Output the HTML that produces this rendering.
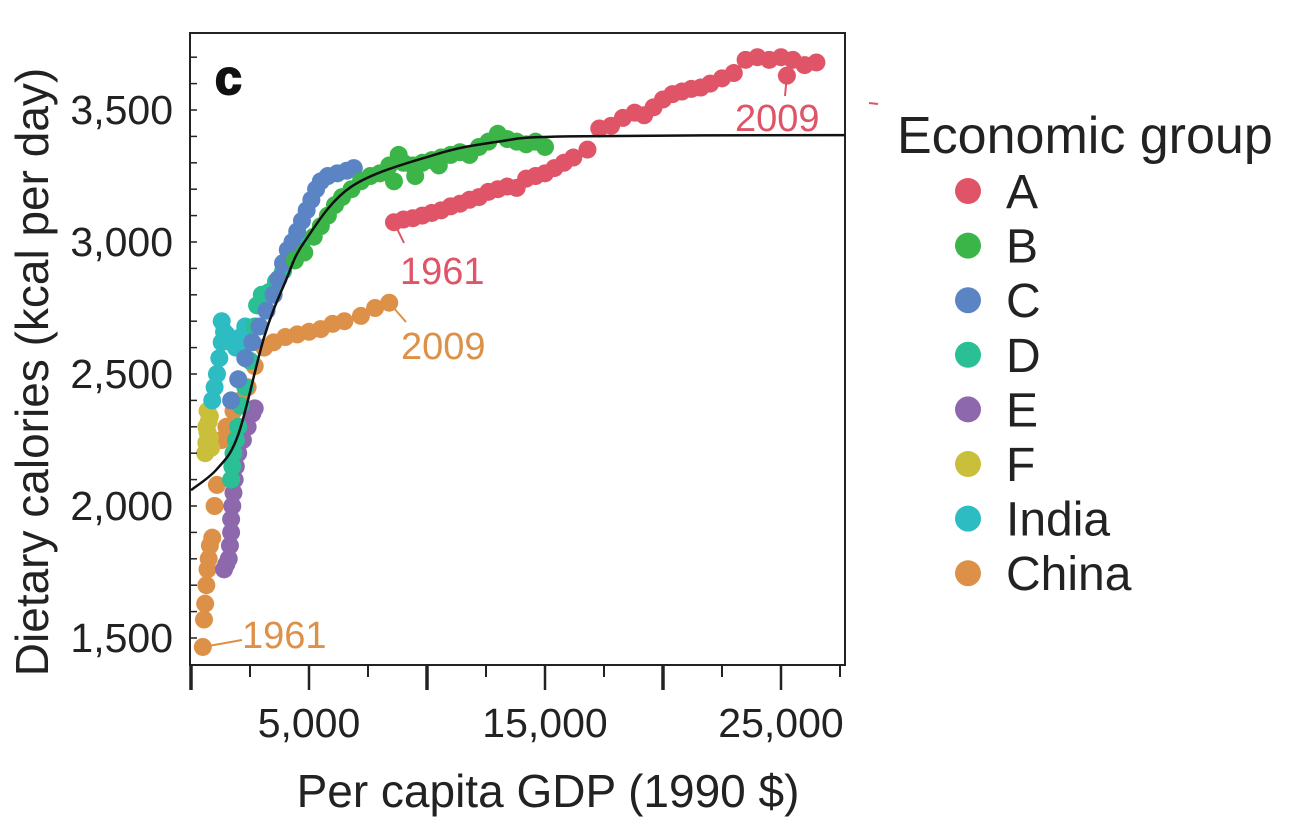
<!DOCTYPE html>
<html><head><meta charset="utf-8"><style>
body{margin:0;background:#fff;}
svg text{font-family:"Liberation Sans",Arial,sans-serif;}
</style></head><body>
<svg id="chart" width="1292" height="824" xmlns="http://www.w3.org/2000/svg">
<g id="marks"></g>
</svg>
<script>
const groupNames=["A","B","C","D","E","F","India","China"];
const groupColors=["#e05468","#3cb548","#5a84c4","#2abf94","#8e68ad","#c9bf3a","#2dbcc2","#dd9148"];
const seriesA=[[8600,3075],[9000,3085],[9400,3090],[9800,3100],[10200,3110],[10600,3120],[11000,3135],[11400,3145],[11800,3160],[12200,3170],[12600,3190],[13000,3200],[13400,3210],[13800,3205],[14200,3240],[14600,3250],[15000,3260],[15400,3280],[15800,3300],[16200,3320],[16800,3350],[17300,3430],[17800,3440],[18300,3470],[18800,3490],[19200,3480],[19600,3510],[20000,3540],[20400,3560],[20800,3570],[21200,3580],[21600,3585],[22000,3600],[22500,3620],[23000,3640],[23500,3690],[24000,3700],[24500,3690],[25000,3700],[25500,3690],[26000,3670],[26500,3680],[25250,3630]];
const seriesB=[[4400,2930],[4800,2960],[5200,3020],[5500,3060],[5800,3100],[6100,3140],[6400,3170],[6800,3200],[7200,3230],[7600,3250],[8000,3260],[8400,3290],[8800,3330],[9000,3300],[9400,3290],[9800,3300],[10200,3310],[10600,3320],[11000,3330],[11400,3340],[11800,3330],[12200,3360],[12600,3380],[13000,3410],[13400,3390],[13800,3380],[14200,3370],[14600,3380],[15000,3360],[8600,3230],[9500,3250],[10500,3290]];
const seriesC=[[1700,2400],[2000,2480],[2300,2560],[2600,2620],[2900,2680],[3200,2740],[3500,2800],[3700,2860],[3900,2920],[4100,2970],[4300,3000],[4500,3040],[4700,3080],[4900,3120],[5100,3160],[5300,3200],[5500,3230],[5800,3250],[6200,3260],[6600,3270],[6900,3280]];
const seriesD=[[1700,2100],[1750,2150],[1800,2200],[1900,2250],[2000,2300],[2100,2380],[2300,2450],[2500,2550],[2700,2680],[2800,2760],[3000,2800],[3300,2810],[3600,2850],[3900,2890],[4200,2940],[4500,2970],[4700,3000]];
const seriesE=[[1400,1760],[1500,1780],[1600,1800],[1650,1850],[1700,1900],[1700,1950],[1750,2000],[1800,2050],[1850,2100],[1900,2150],[2000,2200],[2200,2250],[2400,2300],[2600,2350],[2700,2370]];
const seriesF=[[600,2200],[650,2240],[700,2280],[750,2320],[800,2340],[700,2360],[650,2300],[800,2260],[850,2220]];
const seriesIndia=[[900,2400],[1000,2450],[1100,2500],[1200,2560],[1300,2620],[1400,2660],[1500,2650],[1700,2620],[1900,2600],[2100,2640],[2300,2680],[1300,2700],[2500,2620]];
const seriesChina=[[500,1466],[550,1570],[600,1630],[650,1700],[700,1760],[750,1800],[800,1850],[900,1880],[1000,2000],[1100,2080],[1300,2250],[1500,2300],[1800,2360],[2100,2400],[2400,2450],[2700,2530],[3100,2600],[3500,2620],[4000,2640],[4500,2650],[5000,2660],[5500,2670],[6000,2690],[6500,2700],[7200,2720],[7800,2750],[8400,2770]];
const fitCurve=[[0,2060],[1100,2140],[2000,2270],[3100,2640],[4000,2850],[4800,3000],[6800,3210],[10300,3330],[13000,3380],[16000,3400],[27700,3405]];
const yTicks=[1500,2000,2500,3000,3500];
const yTickLabels=["1,500","2,000","2,500","3,000","3,500"];
const xTicks=[5000,15000,25000];
const xTickLabels=["5,000","15,000","25,000"];

const NS="http://www.w3.org/2000/svg";
const svg=document.getElementById('chart');
const g=document.getElementById('marks');
const L=190,R=845,T=33,B=665;
function xs(v){return 191+v*0.0236;}
function ys(c){return 638-(c-1500)*0.264;}
function mk(tag,attrs,parent){const e=document.createElementNS(NS,tag);for(const k in attrs)e.setAttribute(k,attrs[k]);(parent||svg).appendChild(e);return e;}

let fr=mk('path',{d:`M${L},${T} H${R} V${B} H${L} Z`,fill:'none',stroke:'#222','stroke-width':2});


for(let c=1500;c<=3700;c+=100){
  const t=mk('line',{x1:L,x2:L+7,y1:ys(c),y2:ys(c),stroke:'#222','stroke-width':1.5});
  
  
}
for(let v=0;v<=27500;v+=2500){
  const major=v%5000===0;
  const t=mk('line',{x1:xs(v),x2:xs(v),y1:B,y2:B+(major?25:12),stroke:'#222','stroke-width':major?(v%10000===0?3.5:2.5):2});
  
  
}
yTicks.forEach((c,i)=>{
  const t=mk('text',{x:173,y:ys(c)+14,'text-anchor':'end','font-size':41,fill:'#222'});
  t.textContent=yTickLabels[i];
  
  
});
xTicks.forEach((v,i)=>{
  const t=mk('text',{x:xs(v),y:737,'text-anchor':'middle','font-size':41,fill:'#222'});
  t.textContent=xTickLabels[i];
  
  
});
let yt=mk('text',{x:0,y:0,transform:'translate(48,372) rotate(-90)','text-anchor':'middle','font-size':46,fill:'#222'});
yt.textContent='Dietary calories (kcal per day)';


let xt=mk('text',{x:548,y:807,'text-anchor':'middle','font-size':46,fill:'#222'});
xt.textContent='Per capita GDP (1990 $)';


let pl=mk('text',{x:215,y:94,'font-size':48,'font-weight':'bold',fill:'#111',stroke:'#111','stroke-width':2});
pl.textContent='c';



const allSeries=[seriesA,seriesB,seriesC,seriesD,seriesE,seriesF,seriesIndia,seriesChina];
const order=[7,4,5,6,3,2,1,0];
order.forEach(gi=>{
  allSeries[gi].forEach(p=>{
    const c=mk('circle',{cx:xs(p[0]),cy:ys(p[1]),r:9,fill:groupColors[gi]},g);
    
    
  });
});
// smooth fit curve (Catmull-Rom)
const P=fitCurve.map(p=>[xs(p[0]),ys(p[1])]);
let d=`M${P[0][0].toFixed(1)},${P[0][1].toFixed(1)}`;
for(let i=0;i<P.length-1;i++){
  const p0=P[Math.max(0,i-1)],p1=P[i],p2=P[i+1],p3=P[Math.min(P.length-1,i+2)];
  const c1=[p1[0]+(p2[0]-p0[0])/6,p1[1]+(p2[1]-p0[1])/6];
  const c2=[p2[0]-(p3[0]-p1[0])/6,p2[1]-(p3[1]-p1[1])/6];
  d+=` C${c1[0].toFixed(1)},${c1[1].toFixed(1)} ${c2[0].toFixed(1)},${c2[1].toFixed(1)} ${p2[0].toFixed(1)},${p2[1].toFixed(1)}`;
}
const cv=mk('path',{d,fill:'none',stroke:'#111','stroke-width':2.5,'stroke-linejoin':'round'});



function ann(name,x1,y1,x2,y2,tx,ty,txt,col){
  const l=mk('line',{x1,y1,x2,y2,stroke:col,'stroke-width':2});
  
  
  const t=mk('text',{x:tx,y:ty,'font-size':38,fill:col});
  t.textContent=txt;
  
  
}
ann('a-1961-label',xs(8600),ys(3075),404,243,400,284,'1961','#e05468');
ann('a-2009-label',xs(25250),ys(3630),785,96,735,131,'2009','#e05468');
ann('china-2009-label',xs(8400),ys(2770),406,322,401,359,'2009','#dd9148');
ann('china-1961-label',xs(500),ys(1466),242,640,242,648,'1961','#dd9148');
let dash=mk('line',{x1:869,y1:103,x2:878,y2:104,stroke:'#e05468','stroke-width':2});



let lt=mk('text',{x:897,y:153,'font-size':52,fill:'#222'});
lt.textContent='Economic group';


groupNames.forEach((n,i)=>{
  const y=191+i*54.6;
  const c=mk('circle',{cx:968,cy:y,r:13,fill:groupColors[i]});
  
  
  const t=mk('text',{x:1006,y:y+17,'font-size':48,fill:'#222'});
  t.textContent=n;
  
  
});
</script>
</body></html>
